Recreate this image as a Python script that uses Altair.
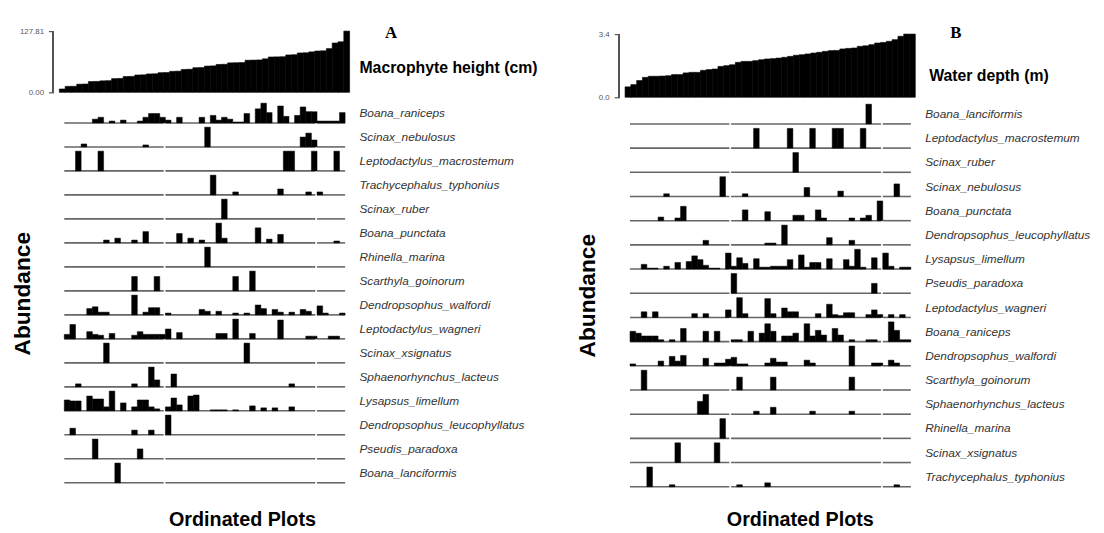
import altair as alt
import pandas as pd

SANS = "Liberation Sans, Arial, sans-serif"
SERIF = "Liberation Serif, Times New Roman, serif"

N_PLOTS = 50
GROUP_STARTS = [0, 18, 45]
GROUP_ENDS = [18, 45, 50]

# ---- Panel A: plots ordered by macrophyte height (cm) ----
A_HEIGHT = [7.0, 12.4, 12.6, 17.0, 17.3, 22.5, 22.8, 24.0, 24.3, 28.6,
            29.0, 33.0, 33.2, 36.2, 36.5, 38.4, 38.7, 41.0, 41.3, 43.8,
            44.2, 47.8, 48.2, 51.4, 51.7, 54.8, 55.2, 58.2, 58.6, 61.5,
            61.8, 62.1, 67.0, 67.3, 67.6, 70.0, 73.8, 74.0, 74.3, 78.0,
            78.5, 82.2, 82.6, 84.5, 86.3, 86.7, 91.3, 103.0, 105.5, 127.81]

A_SPECIES = ["Boana_raniceps", "Scinax_nebulosus", "Leptodactylus_macrostemum",
             "Trachycephalus_typhonius", "Scinax_ruber", "Boana_punctata",
             "Rhinella_marina", "Scarthyla_goinorum", "Dendropsophus_walfordi",
             "Leptodactylus_wagneri", "Scinax_xsignatus", "Sphaenorhynchus_lacteus",
             "Lysapsus_limellum", "Dendropsophus_leucophyllatus", "Pseudis_paradoxa",
             "Boana_lanciformis"]

A_ABUND = {
    "Boana_raniceps": {5: 4, 6: 6, 8: 2, 10: 3, 13: 2, 14: 6, 15: 10, 16: 10, 17: 6, 18: 3,
                       20: 6, 24: 6, 26: 8, 27: 3, 28: 6, 29: 4, 30: 1, 31: 1, 32: 10, 34: 15,
                       35: 21, 36: 11, 38: 18, 39: 7, 41: 8, 42: 17, 43: 12, 44: 12,
                       45: 2, 46: 2, 47: 2, 48: 2, 49: 11},
    "Scinax_nebulosus": {3: 3, 14: 2, 25: 20, 42: 10, 43: 14, 44: 7},
    "Leptodactylus_macrostemum": {2: 20, 6: 20, 39: 20, 40: 20, 44: 20, 48: 20},
    "Trachycephalus_typhonius": {26: 20, 30: 3, 38: 6, 43: 3, 45: 3},
    "Scinax_ruber": {28: 20},
    "Boana_punctata": {7: 3, 9: 5, 12: 3, 14: 12, 20: 10, 22: 5, 24: 3, 27: 21, 28: 5,
                       34: 16, 36: 4, 38: 9, 48: 2},
    "Rhinella_marina": {25: 20},
    "Scarthyla_goinorum": {12: 16, 16: 16, 30: 16, 33: 22},
    "Dendropsophus_walfordi": {4: 7, 5: 9, 6: 3, 7: 3, 12: 22, 14: 3, 15: 8, 16: 8, 18: 2,
                               24: 6, 25: 4, 27: 4, 30: 2, 32: 2, 34: 11, 35: 7, 37: 6,
                               38: 3, 40: 3, 42: 6, 43: 4, 45: 10, 46: 2, 49: 2},
    "Leptodactylus_wagneri": {0: 5, 1: 16, 4: 8, 5: 5, 6: 4, 8: 6, 12: 4, 13: 8, 14: 5,
                              15: 5, 16: 5, 17: 5, 18: 11, 20: 7, 27: 6, 28: 6, 30: 22,
                              33: 6, 38: 21, 43: 3, 44: 3, 47: 3, 48: 3},
    "Scinax_xsignatus": {7: 20, 32: 20},
    "Sphaenorhynchus_lacteus": {2: 3, 12: 3, 15: 20, 16: 7, 19: 13, 40: 3},
    "Lysapsus_limellum": {0: 11, 1: 10, 2: 10, 4: 15, 5: 12, 6: 12, 7: 4, 8: 20, 10: 8,
                          12: 4, 13: 11, 14: 11, 15: 4, 16: 2, 18: 4, 19: 13, 20: 6,
                          22: 15, 23: 16, 26: 1, 27: 1, 28: 1, 30: 1, 33: 5, 35: 3,
                          37: 3, 40: 4},
    "Dendropsophus_leucophyllatus": {1: 7, 12: 5, 15: 5, 18: 21},
    "Pseudis_paradoxa": {5: 20, 13: 10},
    "Boana_lanciformis": {9: 20},
}

# ---- Panel B: plots ordered by water depth (m) ----
B_DEPTH = [0.56, 0.68, 0.90, 1.07, 1.13, 1.13, 1.14, 1.16, 1.22, 1.22,
           1.31, 1.34, 1.34, 1.45, 1.49, 1.52, 1.66, 1.70, 1.75, 1.88,
           1.93, 1.93, 1.97, 2.02, 2.06, 2.08, 2.11, 2.15, 2.20, 2.26,
           2.29, 2.33, 2.38, 2.42, 2.47, 2.51, 2.52, 2.60, 2.63, 2.65,
           2.74, 2.77, 2.83, 2.92, 2.95, 3.01, 3.10, 3.28, 3.40, 3.40]

B_SPECIES = ["Boana_lanciformis", "Leptodactylus_macrostemum", "Scinax_ruber",
             "Scinax_nebulosus", "Boana_punctata", "Dendropsophus_leucophyllatus",
             "Lysapsus_limellum", "Pseudis_paradoxa", "Leptodactylus_wagneri",
             "Boana_raniceps", "Dendropsophus_walfordi", "Scarthyla_goinorum",
             "Sphaenorhynchus_lacteus", "Rhinella_marina", "Scinax_xsignatus",
             "Trachycephalus_typhonius"]

B_ABUND = {
    "Boana_lanciformis": {42: 20},
    "Leptodactylus_macrostemum": {22: 20, 28: 20, 32: 20, 36: 20, 37: 20, 41: 20},
    "Scinax_ruber": {29: 20},
    "Scinax_nebulosus": {6: 3, 16: 22, 20: 3, 31: 10, 37: 6, 47: 14},
    "Boana_punctata": {5: 4, 8: 3, 9: 16, 20: 12, 24: 10, 29: 6, 30: 6, 33: 12, 34: 3,
                       39: 3, 41: 3, 42: 6, 44: 22},
    "Dendropsophus_leucophyllatus": {13: 5, 24: 2, 25: 2, 27: 22, 35: 8, 39: 5},
    "Lysapsus_limellum": {2: 5, 3: 1, 4: 1, 6: 3, 8: 7, 10: 8, 11: 14, 12: 10, 13: 4,
                          14: 1, 15: 1, 17: 17, 18: 3, 19: 12, 20: 6, 22: 11, 23: 2,
                          24: 2, 25: 3, 26: 3, 27: 3, 28: 10, 30: 15, 31: 2, 32: 7,
                          33: 7, 35: 11, 38: 10, 39: 3, 40: 21, 41: 2, 43: 12, 45: 17,
                          46: 3, 48: 2, 49: 2},
    "Pseudis_paradoxa": {18: 22, 43: 11},
    "Leptodactylus_wagneri": {2: 6, 4: 6, 11: 4, 13: 4, 17: 8, 19: 21, 20: 4, 24: 20,
                              25: 4, 27: 10, 28: 6, 29: 6, 33: 4, 35: 14, 36: 3, 37: 2,
                              38: 5, 39: 5, 42: 3, 43: 8, 44: 3, 46: 3, 48: 3},
    "Boana_raniceps": {0: 11, 1: 9, 2: 6, 3: 6, 4: 6, 5: 2, 7: 2, 9: 14, 13: 11, 15: 11,
                       18: 2, 19: 2, 21: 11, 23: 9, 24: 19, 25: 11, 27: 6, 28: 6, 29: 9,
                       31: 19, 32: 6, 33: 12, 34: 7, 36: 14, 37: 7, 39: 2, 42: 2, 43: 2,
                       46: 21, 47: 12, 48: 2, 49: 2},
    "Dendropsophus_walfordi": {0: 2, 5: 5, 7: 10, 8: 5, 9: 11, 13: 8, 15: 3, 16: 3, 17: 7,
                               18: 9, 19: 2, 20: 2, 24: 3, 25: 8, 26: 4, 27: 4, 31: 6,
                               32: 3, 39: 21, 43: 3, 44: 3, 46: 6, 47: 3},
    "Scarthyla_goinorum": {2: 20, 19: 13, 25: 13, 39: 13},
    "Sphaenorhynchus_lacteus": {12: 13, 13: 20, 22: 3, 25: 7, 32: 3, 39: 3},
    "Rhinella_marina": {16: 20},
    "Scinax_xsignatus": {8: 20, 15: 20},
    "Trachycephalus_typhonius": {3: 20, 7: 2, 19: 2, 24: 4, 47: 2},
}


def rows_frame(species, abund):
    recs = []
    for sp in species:
        for p, v in abund[sp].items():
            recs.append(dict(species=sp, kind="bar", plot=p, plot_end=p + 1,
                             abundance=v, start=None, end=None))
        for g, (s, e) in enumerate(zip(GROUP_STARTS, GROUP_ENDS)):
            gap = 0.0 if g == len(GROUP_STARTS) - 1 else 0.3
            recs.append(dict(species=sp, kind="line", plot=None, plot_end=None,
                             abundance=None, start=s, end=e - gap))
        recs.append(dict(species=sp, kind="label", plot=None, plot_end=None,
                         abundance=None, start=None, end=None))
    return pd.DataFrame(recs)


def panel(top_vals, tick_max, dom_max, fmt, title_txt, letter, top_h, vspace,
          species, abund, row_spacing, title_pos, letter_pos, xtitle_x, xtitle_pad):
    n = len(top_vals)
    tdf = pd.DataFrame({"plot": list(range(n)), "value": top_vals})
    tdf["plot_end"] = tdf["plot"] + 1
    yscale = alt.Scale(domain=[0, dom_max], nice=False, zero=True)
    tbars = alt.Chart(tdf).mark_bar(color="black", stroke="black", strokeWidth=0.6).encode(
        x=alt.X("plot:Q", scale=alt.Scale(domain=[0, n], nice=False, zero=False), axis=None),
        x2="plot_end:Q",
        y=alt.Y("value:Q", scale=yscale,
                axis=alt.Axis(values=[0, tick_max], format=fmt, title=None, grid=False,
                              domain=False, offset=6, tickSize=5, tickColor="#555",
                              tickWidth=1.2, labelColor="#555", labelFont=SANS,
                              labelFontSize=8, labelPadding=5)),
        y2=alt.datum(0),
    )
    bracket = alt.Chart(tdf).mark_rule(color="#555", strokeWidth=1.2).encode(
        x=alt.value(-6), y=alt.YDatum(0), y2=alt.datum(tick_max))
    ttl = alt.Chart(pd.DataFrame({"t": [title_txt]})).mark_text(
        align="left", baseline="middle", font=SANS, fontWeight="bold", fontSize=16,
        color="black").encode(x=alt.value(title_pos[0]), y=alt.value(title_pos[1]), text="t:N")
    let = alt.Chart(pd.DataFrame({"t": [letter]})).mark_text(
        align="center", baseline="middle", font=SERIF, fontWeight="bold", fontSize=17,
        color="black").encode(x=alt.value(letter_pos[0]), y=alt.value(letter_pos[1]), text="t:N")
    top = alt.layer(tbars, bracket, ttl, let).properties(width=294, height=top_h)

    rdf = rows_frame(species, abund)
    xs = alt.Scale(domain=[-0.88, 50.8], nice=False, zero=False)
    xaxis = alt.Axis(title="Ordinated Plots", labels=False, ticks=False, domain=False,
                     grid=False, titleFont=SANS, titleFontWeight="bold", titleFontSize=20,
                     titleColor="black", titlePadding=xtitle_pad, titleX=xtitle_x)
    lines = alt.Chart().transform_filter(alt.datum.kind == "line").mark_rule(
        color="#666", strokeWidth=1.6).encode(
        x=alt.X("start:Q", scale=xs, axis=xaxis), x2="end:Q",
        y=alt.YDatum(0, axis=None))
    rbars = alt.Chart().transform_filter(alt.datum.kind == "bar").mark_bar(
        color="black", stroke="black", strokeWidth=0.5).encode(
        x=alt.X("plot:Q", scale=xs, axis=xaxis), x2="plot_end:Q",
        y=alt.Y("abundance:Q", axis=None, scale=alt.Scale(nice=False, zero=True)),
        y2=alt.datum(0))
    labels = alt.Chart().transform_filter(alt.datum.kind == "label").mark_text(
        align="left", baseline="middle", font=SANS, fontStyle="italic", fontSize=12,
        color="#333").encode(x=alt.value(304), y=alt.value(10), text="species:N")
    rows = alt.layer(lines, rbars, labels, data=rdf).properties(width=294, height=20).facet(
        row=alt.Row("species:N", sort=species,
                    header=alt.Header(title="Abundance", titleOrient="left",
                                      titleFont=SANS, titleFontWeight="bold",
                                      titleFontSize=23, titleColor="black", titlePadding=15,
                                      labels=False)),
        spacing=row_spacing,
    ).resolve_scale(y="independent")
    return alt.vconcat(top, rows, spacing=vspace)


panel_a = panel(A_HEIGHT, 127.81, 127.81, ".2f", "Macrophyte height (cm)", "A", 62, 6,
                A_SPECIES, A_ABUND, 2.3, (304, 37), (336, 2), 185, 26)
panel_b = panel(B_DEPTH, 3.4, 3.4 * 67 / 64, ".1f", "Water depth (m)", "B", 67, 2,
                B_SPECIES, B_ABUND, 2.5, (308, 46), (335, 2), 177, 22)

chart = alt.hconcat(panel_a, panel_b, spacing=39).properties(
    padding={"left": 3, "top": 13, "right": 5, "bottom": 5},
    background="white",
).configure_view(stroke=None)

chart.save("out.html", embed_options={"renderer": "svg", "actions": False})
